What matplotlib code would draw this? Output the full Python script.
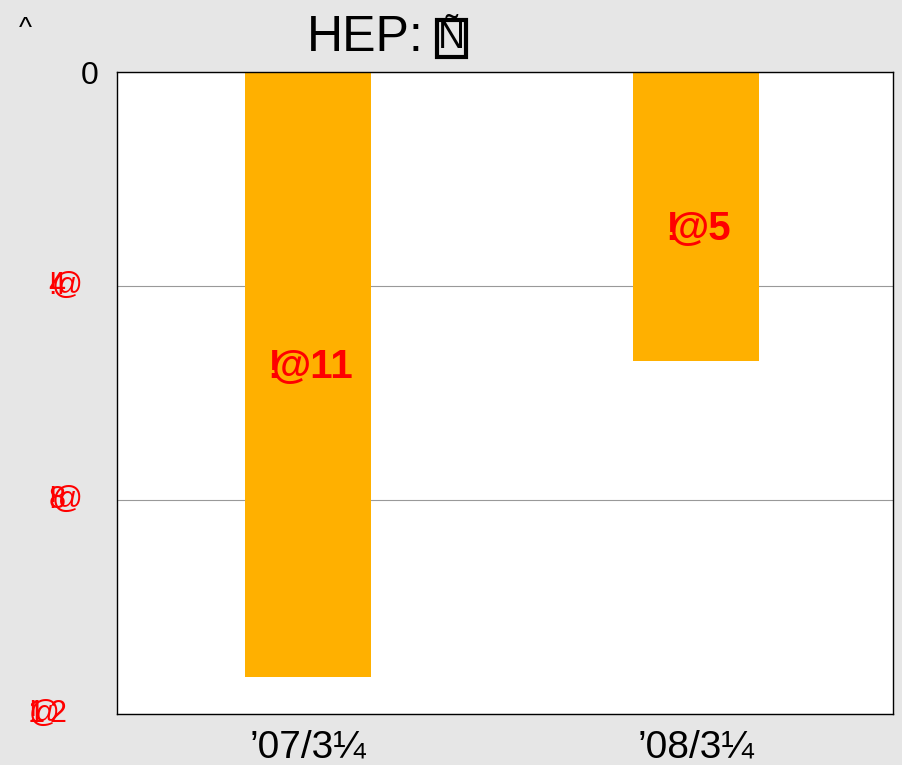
import numpy as np
import matplotlib.pyplot as plt

plt.rcParams['font.family'] = ['Liberation Sans', 'DejaVu Sans']

# data
categories = ["\u201907/3\u00bc", "\u201908/3\u00bc"]
values = [-11.3, -5.4]
bar_labels = ["11", "5"]
tick_values = [0, -4, -8, -12]
tick_digits = ["0", "4", "8", "2"]

BAR_COLOR = '#ffb000'
BG = '#e6e6e6'

fig = plt.figure(figsize=(9.03, 7.65), dpi=100, facecolor=BG)
ax = fig.add_axes([117 / 903, 1 - 714 / 765, 776 / 903, 642 / 765])
ax.set_facecolor('white')

x = np.arange(len(categories))
ax.bar(x, values, width=0.325, color=BAR_COLOR, zorder=2)

ax.set_xlim(-0.492, 1.508)
ax.set_ylim(-12, 0)
ax.set_xticks(x)
ax.set_xticklabels(categories, fontsize=28)
ax.tick_params(axis='x', length=0, pad=11)
ax.set_yticks(tick_values)
ax.set_yticklabels(["0", "", "", ""], fontsize=23)
ax.tick_params(axis='y', length=0, pad=13)
ax.grid(axis='y', color='#999999', linewidth=0.8, zorder=0)
for s in ax.spines.values():
    s.set_color('black')
    s.set_linewidth(1)

# garbled red tick labels (overlapping glyphs)
trans = ax.get_yaxis_transform()
for v, d in zip(tick_values[1:], tick_digits[1:]):
    if v == -12:
        parts = [("!", -85), ("1", -81), ("@", -73), (d, -59)]
    else:
        parts = [("!", -65), (d, -60), ("@", -50)]
    for ch, dx in parts:
        ax.annotate(ch, xy=(0, v), xycoords=trans, xytext=(dx, 0),
                    textcoords='offset pixels', ha='center', va='center',
                    color='red', fontsize=22, annotation_clip=False)

# bar value labels, the "!" sits on the left edge of "@nn"
renderer = fig.canvas.get_renderer()
shifts = [7, -13]
for xi, v, lab, sh in zip(x, values, bar_labels, shifts):
    ymid = v / 2
    t = ax.annotate("@" + lab, xy=(xi, ymid), xytext=(5, sh), textcoords='offset pixels',
                    ha='center', va='center', color='red', fontsize=29, fontweight='bold')
    w = t.get_window_extent(renderer).width
    ax.annotate("!", xy=(xi, ymid), xytext=(5 - w / 2 + 2, sh), textcoords='offset pixels',
                ha='center', va='center', color='red', fontsize=29, fontweight='bold')

fig.text(0.405, 0.950, "HEP:", fontsize=36, ha='center', va='center')
fig.text(0.5, 0.950, "\u00d1", fontsize=27, ha='center', va='center',
         bbox=dict(boxstyle='square,pad=0.02', fc='none', ec='black', lw=3))
fig.text(0.028, 0.962, "^", fontsize=20, ha='center', va='center')

fig.savefig("out.png", dpi=100, facecolor=BG)
